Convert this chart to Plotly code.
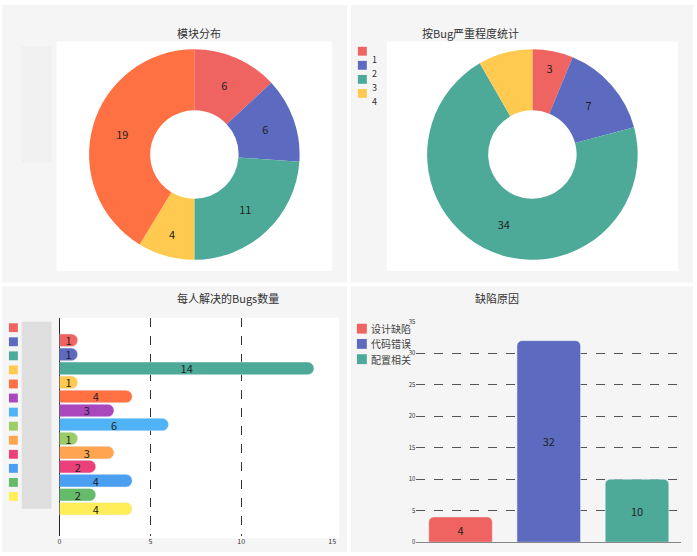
import plotly.graph_objects as go

mod_labels = ["模块A", "模块B", "模块C", "模块D", "模块E"]
mod_values = [6, 6, 11, 4, 19]
mod_colors = ["#ef6461", "#5c6bc0", "#4daa99", "#ffca4f", "#ff7043"]

sev_labels = ["1", "2", "3", "4"]
sev_values = [3, 7, 34, 4]
sev_colors = ["#ef6461", "#5c6bc0", "#4daa99", "#ffca4f"]

person_values = [1, 1, 14, 1, 4, 3, 6, 1, 3, 2, 4, 2, 4]
person_colors = ["#ef6461", "#5c6bc0", "#4daa99", "#ffca4f", "#ff7043", "#ab47bc",
                 "#4fb3f6", "#9ccc65", "#ffa54f", "#ec407a", "#4a9ff0", "#66bb6a", "#ffee58"]

cause_labels = ["设计缺陷", "代码错误", "配置相关"]
cause_values = [4, 32, 10]
cause_colors = ["#ef6461", "#5c6bc0", "#4daa99"]

W, H = 697, 556
fx = lambda p: p / W
fy = lambda p: 1 - p / H

fig = go.Figure()
fig.add_trace(go.Pie(labels=mod_labels, values=mod_values, hole=0.42, sort=False,
                     direction="clockwise", rotation=0,
                     marker=dict(colors=mod_colors), textinfo="value",
                     textfont=dict(size=11, color="#222"),
                     domain=dict(x=[fx(55), fx(333)], y=[fy(259), fy(45)])))
fig.add_trace(go.Pie(labels=sev_labels, values=sev_values, hole=0.42, sort=False,
                     direction="clockwise", rotation=0,
                     marker=dict(colors=sev_colors),
                     texttemplate=["%{value}" if v >= 5 or v == 3 else "" for v in sev_values],
                     textfont=dict(size=11, color="#222"),
                     domain=dict(x=[fx(388), fx(682)], y=[fy(259), fy(45)])))

for i, (v, c) in enumerate(zip(person_values, person_colors)):
    fig.add_trace(go.Bar(x=[v], y=[i], orientation="h",
                         marker=dict(color=c, cornerradius=7), width=0.9, text=[str(v)],
                         textposition="inside", insidetextanchor="middle", textangle=0,
                         textfont=dict(size=11, color="#222"),
                         xaxis="x", yaxis="y"))

for lab, v, c in zip(cause_labels, cause_values, cause_colors):
    fig.add_trace(go.Bar(x=[lab], y=[v], marker=dict(color=c, cornerradius=5), width=0.72,
                         text=[str(v)], textposition="inside", insidetextanchor="middle",
                         textfont=dict(size=11, color="#222"),
                         xaxis="x2", yaxis="y2"))

panels = [(0, 0, 348, 282), (352, 0, 697, 282), (0, 286, 348, 556), (352, 286, 697, 556)]
shapes = []
def rect(x0, y0, x1, y1, color, layer="below"):
    shapes.append(dict(type="rect", xref="paper", yref="paper", x0=fx(x0), x1=fx(x1),
                       y0=fy(y1), y1=fy(y0), fillcolor=color, line=dict(width=0), layer=layer))
for p in panels:
    rect(*p, "#f5f5f5")
for p in [(55, 37, 333, 270), (388, 37, 682, 270), (58, 318, 340, 542)]:
    rect(*p, "white")
rect(20, 322, 50, 512, "#dedede")
rect(20, 42, 50, 160, "#f0f0f0")

font = "Noto Sans CJK SC, Noto Sans, sans-serif"
titles = [("模块分布", 174, 18), ("按Bug严重程度统计", 524, 18), ("每人解决的Bugs数量", 174, 298), ("缺陷原因", 524, 298)]
ann = [dict(text=t, x=fx(x), y=fy(y), xref="paper", yref="paper", showarrow=False,
            font=dict(size=11, color="#333")) for t, x, y in titles]

for i, (lab, c) in enumerate(zip(sev_labels, sev_colors)):
    yc = 47 + i * 14.3
    rect(359, yc - 4.5, 368, yc + 4.5, c, "above")
    ann.append(dict(text=lab, x=fx(371), y=fy(yc), xref="paper", yref="paper", showarrow=False,
                    xanchor="left", font=dict(size=9, color="#333")))
for i, c in enumerate(person_colors):
    yc = 328 + i * 14.3
    rect(7, yc - 4.5, 16, yc + 4.5, c, "above")
for i, (lab, c) in enumerate(zip(cause_labels, cause_colors)):
    yc = 329 + i * 15.5
    rect(358, yc - 5, 368, yc + 5, c, "above")
    ann.append(dict(text=lab, x=fx(370), y=fy(yc), xref="paper", yref="paper", showarrow=False,
                    xanchor="left", font=dict(size=10, color="#444")))

fig.update_layout(
    width=W, height=H, margin=dict(l=0, r=0, t=0, b=0), paper_bgcolor="white",
    plot_bgcolor="rgba(0,0,0,0)", font=dict(family=font), barmode="overlay", showlegend=False,
    shapes=shapes, annotations=ann,
    uniformtext=dict(minsize=11, mode="show"),
    xaxis=dict(domain=[fx(58), fx(333)], range=[0, 15], anchor="y", tickvals=[0, 5, 10, 15],
               showgrid=True, gridcolor="#333", griddash="dash",
               zeroline=True, zerolinecolor="#222", zerolinewidth=1,
               tickfont=dict(size=7, color="#333"), ticks=""),
    yaxis=dict(domain=[fy(540), fy(318)], range=[13.96, -1.6], showticklabels=False,
               showgrid=False, zeroline=False, anchor="x"),
    xaxis2=dict(domain=[fx(418), fx(685)], anchor="y2", showticklabels=False, showline=True,
                linecolor="#888", showgrid=False),
    yaxis2=dict(domain=[fy(546), fy(322)], range=[0, 35], anchor="x2", dtick=5,
                showgrid=True, gridcolor="#555", griddash="dash", zeroline=False,
                tickfont=dict(size=6, color="#333")),
)
fig.write_html("out.html", config={"displayModeBar": False},
               post_script="document.body.style.margin='0';")
